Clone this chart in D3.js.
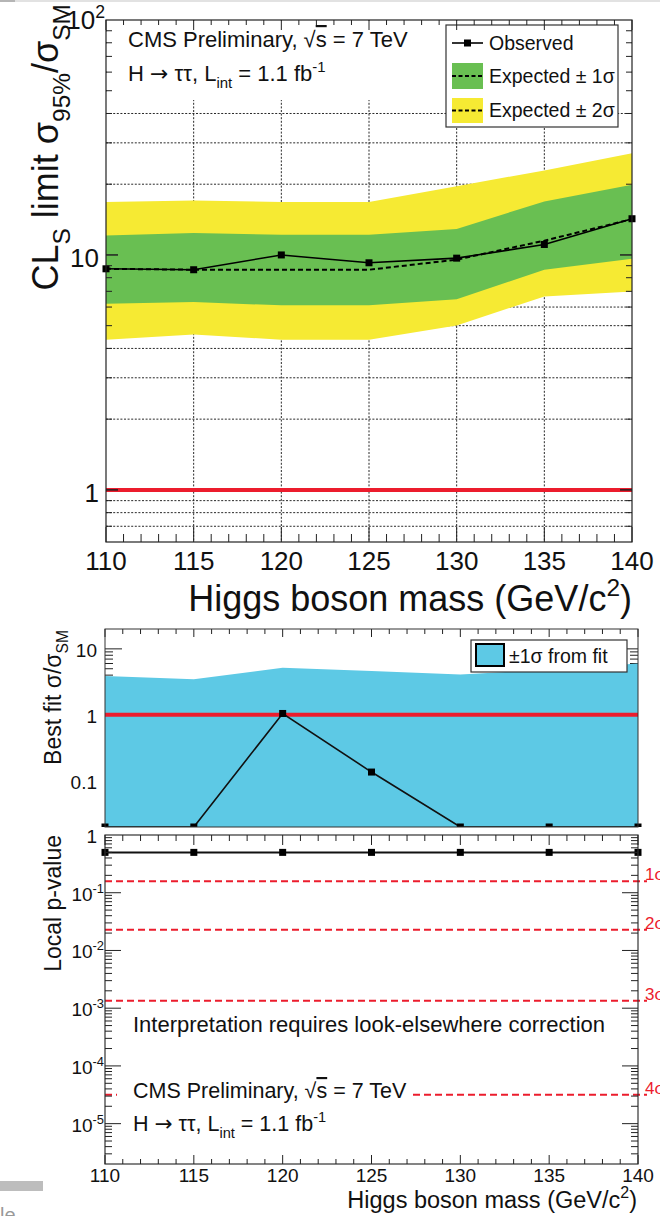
<!DOCTYPE html>
<html lang="en">
<head>
<meta charset="UTF-8" />
<title>H to tautau limits</title>
<script src="https://cdn.jsdelivr.net/npm/d3@7"></script>
<style>
  body { margin: 0; background: #fff; }
  text { font-family: "Liberation Sans", Arial, Helvetica, sans-serif; fill: #111; }
  .arrow { font-family: "DejaVu Sans", sans-serif; }
</style>
</head>
<body>
<script>
// ---- data ----
const masses = [110, 115, 120, 125, 130, 135, 140];

// CLs limit panel
const observedLimit = [8.73, 8.65, 10.0, 9.26, 9.69, 11.08, 14.26];
const expectedLimit = [8.73, 8.65, 8.65, 8.65, 9.55, 11.5, 14.2];
const expMinus2 = [4.36, 4.58, 4.36, 4.36, 5.01, 6.66, 6.99];
const expMinus1 = [6.20, 6.30, 6.10, 6.10, 6.47, 8.65, 9.63];
const expPlus1 = [12.1, 12.4, 12.2, 12.2, 12.9, 16.9, 19.9];
const expPlus2 = [16.8, 17.06, 16.8, 16.8, 19.6, 22.9, 27.1];

// best fit panel (0 = below the axis)
const bestFit = [0, 0, 1.05, 0.136, 0, 0, 0];
const fitHigh = [3.87, 3.45, 5.17, 4.63, 4.1, 4.88, 6.0];
const fitLow = [0, 0, 0, 0, 0, 0, 0];

// local p-value panel
const pValue = [0.5, 0.5, 0.5, 0.5, 0.5, 0.5, 0.5];
const sigmaP = [0.1587, 0.02275, 0.00135, 3.17e-5];
const sigmaLabels = ["1σ", "2σ", "3σ", "4σ"];

const RED = "#ec1c2d", GREEN = "#69bf52", YELLOW = "#f6ea33", BLUE = "#5dc9e5";

const svg = d3.select("body").append("svg").attr("width", 660).attr("height", 1216);

// rich text helper: parts = [[text, "sub"|"sup"|undefined, overline, class], ...]
function rich(sel, parts, size) {
  let shift = 0;
  parts.forEach(p => {
    const target = p[1] === "sub" ? size * 0.32 : p[1] === "sup" ? -size * 0.42 : 0;
    const t = sel.append("tspan").attr("dy", target - shift)
      .attr("font-size", p[1] ? size * 0.68 : size).text(p[0]);
    if (p[2]) t.style("text-decoration", "overline");
    if (p[3]) t.attr("class", p[3]);
    shift = target;
  });
  return sel;
}
const cmsLine = [["CMS Preliminary, √"], ["s", undefined, true], [" = 7 TeV"]];
const chanLine = [["H "], ["→", undefined, false, "arrow"], [" ττ, L"], ["int", "sub"], [" = 1.1 fb"], ["-1", "sup"]];

function ticksX(g, scale, vals, y, dir, maj, min) {
  g.selectAll(null).data(vals).join("line")
    .attr("x1", d => scale(d)).attr("x2", d => scale(d))
    .attr("y1", y).attr("y2", d => y + dir * (d % 5 === 0 ? maj : min))
    .attr("stroke", "#222").attr("stroke-width", 1);
}
function ticksY(g, scale, vals, x, dir, maj, min) {
  g.selectAll(null).data(vals).join("line")
    .attr("y1", d => scale(d)).attr("y2", d => scale(d))
    .attr("x1", x).attr("x2", d => x + dir * (isDecade(d) ? maj : min))
    .attr("stroke", "#222").attr("stroke-width", 1);
}
function isDecade(v) {
  const l = Math.log10(v);
  return Math.abs(l - Math.round(l)) < 1e-6;
}
function mk(g, pts) {
  g.selectAll(null).data(pts).join("rect")
    .attr("x", d => d[0] - 3.5).attr("y", d => d[1] - 3.5)
    .attr("width", 7).attr("height", 7).attr("fill", "#000");
}

// screenshot leftovers
svg.append("rect").attr("x", 0).attr("y", 0).attr("width", 660).attr("height", 2).attr("fill", "#e2e2e2");
svg.append("rect").attr("x", 0).attr("y", 0).attr("width", 15).attr("height", 2).attr("fill", "#b5b5b5");
svg.append("rect").attr("x", 0).attr("y", 1181).attr("width", 43).attr("height", 10).attr("fill", "#bdbdbd");
svg.append("text").attr("x", 0).attr("y", 1222).attr("font-size", 20).style("fill", "#999").text("le");

// ================= top panel =================
const T = { x0: 106, x1: 632, y0: 20, y1: 542 };
const xTop = d3.scaleLinear([110, 140], [T.x0, T.x1]);
const yTop = d3.scaleLog([0.6, 100], [T.y1, T.y0]);
const gT = svg.append("g");
const yTicksTop = yTop.ticks().filter(v => v > 0.61 && v < 99);

gT.selectAll(null).data(yTicksTop).join("line")
  .attr("x1", T.x0).attr("x2", T.x1).attr("y1", d => yTop(d)).attr("y2", d => yTop(d))
  .attr("stroke", "#111").attr("stroke-width", 0.9).attr("stroke-dasharray", "2,1.6");
gT.selectAll(null).data(xTop.ticks(6).filter(v => v > 110 && v < 140)).join("line")
  .attr("x1", d => xTop(d)).attr("x2", d => xTop(d)).attr("y1", T.y0).attr("y2", T.y1)
  .attr("stroke", "#111").attr("stroke-width", 0.9).attr("stroke-dasharray", "2,1.6");

const bandTop = (lo, hi) => d3.area().x((d, i) => xTop(masses[i]))
  .y0((d, i) => yTop(lo[i])).y1((d, i) => yTop(hi[i]));
gT.append("path").datum(masses).attr("d", bandTop(expMinus2, expPlus2)).attr("fill", YELLOW);
gT.append("path").datum(masses).attr("d", bandTop(expMinus1, expPlus1)).attr("fill", GREEN);

const lineTop = arr => d3.line().x((d, i) => xTop(masses[i])).y((d, i) => yTop(arr[i]));
gT.append("path").datum(masses).attr("d", lineTop(expectedLimit))
  .attr("fill", "none").attr("stroke", "#000").attr("stroke-width", 2).attr("stroke-dasharray", "5,3");
gT.append("path").datum(masses).attr("d", lineTop(observedLimit))
  .attr("fill", "none").attr("stroke", "#000").attr("stroke-width", 1.6);
mk(gT, masses.map((m, i) => [xTop(m), yTop(observedLimit[i])]));

gT.append("line").attr("x1", T.x0).attr("x2", T.x1).attr("y1", yTop(1)).attr("y2", yTop(1))
  .attr("stroke", RED).attr("stroke-width", 4);

// text pave
gT.append("rect").attr("x", T.x0 + 1).attr("y", T.y0 + 1).attr("width", T.x1 - T.x0 - 2).attr("height", 79).attr("fill", "#fff");
rich(gT.append("text").attr("x", 128).attr("y", 47), cmsLine, 22);
rich(gT.append("text").attr("x", 128).attr("y", 81), chanLine, 22);

// legend
const L = gT.append("g");
L.append("rect").attr("x", 446).attr("y", 25).attr("width", 172).attr("height", 102)
  .attr("fill", "#fff").attr("stroke", "#333").attr("stroke-width", 1.2);
L.append("line").attr("x1", 452).attr("x2", 483).attr("y1", 43).attr("y2", 43).attr("stroke", "#000").attr("stroke-width", 1.6);
mk(L, [[467.5, 43]]);
L.append("rect").attr("x", 452).attr("y", 63).attr("width", 31).attr("height", 26).attr("fill", GREEN);
L.append("rect").attr("x", 452).attr("y", 98).attr("width", 31).attr("height", 25).attr("fill", YELLOW);
[76, 110.5].forEach(y => L.append("line").attr("x1", 452).attr("x2", 483).attr("y1", y).attr("y2", y)
  .attr("stroke", "#000").attr("stroke-width", 2).attr("stroke-dasharray", "4,2.5"));
L.append("text").attr("x", 489).attr("y", 50).attr("font-size", 19.5).text("Observed");
L.append("text").attr("x", 489).attr("y", 83).attr("font-size", 19.5).text("Expected ± 1σ");
L.append("text").attr("x", 489).attr("y", 117).attr("font-size", 19.5).text("Expected ± 2σ");

// frame + ticks
gT.append("rect").attr("x", T.x0).attr("y", T.y0).attr("width", T.x1 - T.x0).attr("height", T.y1 - T.y0)
  .attr("fill", "none").attr("stroke", "#222").attr("stroke-width", 1.2);
const gevTicks = d3.range(110, 141, 1);
ticksX(gT, xTop, gevTicks, T.y1, -1, 15, 8);
ticksX(gT, xTop, gevTicks, T.y0, 1, 10, 5);
ticksY(gT, yTop, yTicksTop.concat([1, 10]), T.x0, 1, 12, 6);
ticksY(gT, yTop, yTicksTop.concat([1, 10]), T.x1, -1, 12, 6);

gT.selectAll(null).data(xTop.ticks(6)).join("text")
  .attr("x", d => xTop(d)).attr("y", 570).attr("text-anchor", "middle").attr("font-size", 26).text(d => d);
[1, 10].forEach(v => gT.append("text").attr("x", 99).attr("y", yTop(v) + 12)
  .attr("text-anchor", "end").attr("font-size", 26).text(v));
rich(gT.append("text").attr("x", 105).attr("y", yTop(100) + 9).attr("text-anchor", "end"),
  [["10"], ["2", "sup"]], 26);

rich(gT.append("text").attr("x", 632).attr("y", 611).attr("text-anchor", "end"),
  [["Higgs boson mass (GeV/c"], ["2", "sup"], [")"]], 36);
rich(gT.append("text").attr("transform", "translate(58,4) rotate(-90)").attr("text-anchor", "end"),
  [["CL"], ["S", "sub"], [" limit σ"], ["95%", "sub"], ["/σ"], ["SM", "sub"]], 36);

// ================= middle panel =================
const M = { x0: 105, x1: 638, y0: 629, y1: 827 };
const xLow = d3.scaleLinear([110, 140], [M.x0, M.x1]);
const yMid = d3.scaleLog([0.02, 20], [M.y1, M.y0]).clamp(true);
const gM = svg.append("g");
const yTicksMid = yMid.ticks().filter(v => v > 0.021 && v < 19);

ticksY(gM, yMid, yTicksMid, M.x0, 1, 17, 8);
ticksY(gM, yMid, yTicksMid, M.x1, -1, 17, 8);
ticksX(gM, xLow, gevTicks, M.y0, 1, 8, 5);

gM.append("path").datum(masses)
  .attr("d", d3.area().x((d, i) => xLow(masses[i])).y0((d, i) => yMid(fitLow[i])).y1((d, i) => yMid(fitHigh[i])))
  .attr("fill", BLUE);
gM.append("line").attr("x1", M.x0).attr("x2", M.x1).attr("y1", yMid(1)).attr("y2", yMid(1))
  .attr("stroke", RED).attr("stroke-width", 4);

svg.append("clipPath").attr("id", "midclip").append("rect")
  .attr("x", M.x0 - 6).attr("y", M.y0).attr("width", M.x1 - M.x0 + 12).attr("height", M.y1 - M.y0);
const gMc = gM.append("g").attr("clip-path", "url(#midclip)");
gMc.append("path").datum(masses)
  .attr("d", d3.line().x((d, i) => xLow(masses[i])).y((d, i) => yMid(bestFit[i])))
  .attr("fill", "none").attr("stroke", "#111").attr("stroke-width", 1.6);
mk(gMc, masses.map((m, i) => [xLow(m), yMid(bestFit[i])]));

gM.append("rect").attr("x", 471).attr("y", 640).attr("width", 156).attr("height", 32)
  .attr("fill", "#fff").attr("stroke", "#333").attr("stroke-width", 1.2);
gM.append("rect").attr("x", 476).attr("y", 644).attr("width", 28).attr("height", 22)
  .attr("fill", BLUE).attr("stroke", "#000").attr("stroke-width", 2);
gM.append("text").attr("x", 509).attr("y", 663).attr("font-size", 19.5).text("±1σ from fit");

gM.append("rect").attr("x", M.x0).attr("y", M.y0).attr("width", M.x1 - M.x0).attr("height", M.y1 - M.y0)
  .attr("fill", "none").attr("stroke", "#333").attr("stroke-width", 1);
[[10, "10"], [1, "1"], [0.1, "0.1"]].forEach(d => gM.append("text").attr("x", 97).attr("y", yMid(d[0]) + 8)
  .attr("text-anchor", "end").attr("font-size", 19).text(d[1]));
rich(gM.append("text").attr("transform", "translate(61,630) rotate(-90)").attr("text-anchor", "end"),
  [["Best fit σ/σ"], ["SM", "sub"]], 23);

// ================= bottom panel =================
const B = { x0: 105, x1: 638, y0: 835, y1: 1164 };
const yBot = d3.scaleLog([2e-6, 1], [B.y1, B.y0]);
const gB = svg.append("g");

gB.selectAll(null).data(sigmaP).join("line")
  .attr("x1", B.x0).attr("x2", 647).attr("y1", d => yBot(d)).attr("y2", d => yBot(d))
  .attr("stroke", RED).attr("stroke-width", 2).attr("stroke-dasharray", "7,4");
gB.selectAll(null).data(sigmaP).join("text")
  .attr("x", 645).attr("y", d => yBot(d) - 1).attr("font-size", 17).style("fill", RED)
  .text((d, i) => sigmaLabels[i]);

gB.append("rect").attr("x", 117).attr("y", 1072).attr("width", 293).attr("height", 70).attr("fill", "#fff");
gB.append("text").attr("x", 133).attr("y", 1032).attr("font-size", 22)
  .text("Interpretation requires look-elsewhere correction");
rich(gB.append("text").attr("x", 133).attr("y", 1098), cmsLine, 21.5);
rich(gB.append("text").attr("x", 133).attr("y", 1131), chanLine, 21.5);

gB.append("path").datum(masses)
  .attr("d", d3.line().x((d, i) => xLow(masses[i])).y((d, i) => yBot(pValue[i])))
  .attr("fill", "none").attr("stroke", "#111").attr("stroke-width", 2);
mk(gB, masses.map((m, i) => [xLow(m), yBot(pValue[i])]));

gB.append("rect").attr("x", B.x0).attr("y", B.y0).attr("width", B.x1 - B.x0).attr("height", B.y1 - B.y0)
  .attr("fill", "none").attr("stroke", "#333").attr("stroke-width", 1.2);
const yTicksBot = yBot.ticks().filter(v => v > 2.1e-6 && v < 0.99);
ticksY(gB, yBot, yTicksBot, B.x0, 1, 16, 7);
ticksY(gB, yBot, yTicksBot, B.x1, -1, 16, 7);
ticksX(gB, xLow, gevTicks, B.y0, 1, 10, 6);
ticksX(gB, xLow, gevTicks, B.y1, -1, 9, 5);

gB.selectAll(null).data(xLow.ticks(6)).join("text")
  .attr("x", d => xLow(d)).attr("y", 1182).attr("text-anchor", "middle").attr("font-size", 19).text(d => d);
gB.append("text").attr("x", 97).attr("y", yBot(1) + 8).attr("text-anchor", "end").attr("font-size", 19).text("1");
[1e-1, 1e-2, 1e-3, 1e-4, 1e-5].forEach(v => rich(
  gB.append("text").attr("x", 104).attr("y", yBot(v) + 8).attr("text-anchor", "end"),
  [["10"], [String(Math.round(Math.log10(v))), "sup"]], 19));

rich(gB.append("text").attr("x", 637).attr("y", 1208).attr("text-anchor", "end"),
  [["Higgs boson mass (GeV/c"], ["2", "sup"], [")"]], 23.5);
rich(gB.append("text").attr("transform", "translate(61,835) rotate(-90)").attr("text-anchor", "end"),
  [["Local p-value"]], 23);
</script>
</body>
</html>
